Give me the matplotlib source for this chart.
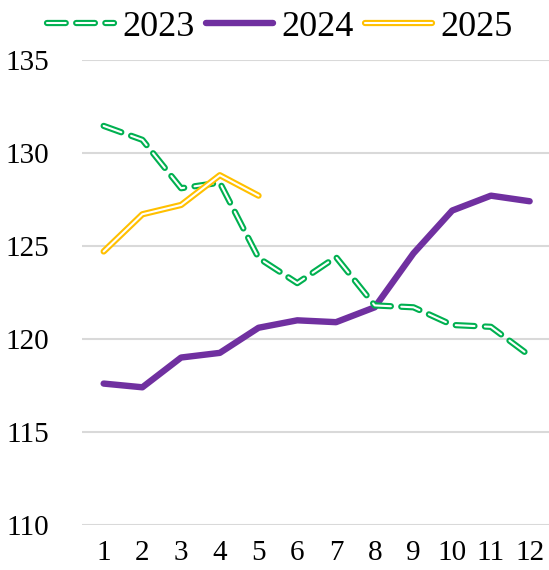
import matplotlib
matplotlib.use("Agg")
import matplotlib.pyplot as plt
import matplotlib.patheffects as pe

months = [1, 2, 3, 4, 5, 6, 7, 8, 9, 10, 11, 12]
y2023 = [131.45, 130.7, 128.1, 128.4, 124.35, 123.0, 124.4, 121.8, 121.7, 120.75, 120.65, 119.1]
y2024 = [117.6, 117.4, 119.0, 119.25, 120.6, 121.0, 120.9, 121.7, 124.6, 126.9, 127.7, 127.4]
months_2025 = [1, 2, 3, 4, 5]
y2025 = [124.7, 126.7, 127.2, 128.8, 127.7]
yticks = [110, 115, 120, 125, 130, 135]

GREEN = "#00B050"
PURPLE = "#7030A0"
YELLOW = "#FFC000"

plt.rcParams["font.family"] = ["Liberation Serif", "DejaVu Serif"]

fig = plt.figure(figsize=(5.49, 5.70), dpi=100)
ax = fig.add_axes([0.15, 0.079, 0.85, 0.816])

# 2023: green outlined dashes (white core, green stroke)
ax.plot(months, y2023, color="white", lw=1.5, ls=(0, (9, 5)),
        dash_capstyle="round", solid_capstyle="round",
        path_effects=[pe.Stroke(linewidth=4.5, foreground=GREEN), pe.Normal()],
        label="2023", zorder=3)
ax.plot(months, y2024, color=PURPLE, lw=4.6, solid_capstyle="round",
        label="2024", zorder=2)
ax.plot(months_2025, y2025, color="white", lw=1.5, solid_capstyle="round",
        path_effects=[pe.Stroke(linewidth=4.5, foreground=YELLOW), pe.Normal()],
        label="2025", zorder=4)

ax.set_xlim(0.45, 12.5)
ax.set_ylim(110, 135)
ax.set_yticks(yticks)
ax.set_xticks(months)
ax.yaxis.grid(True, color="#D9D9D9", lw=1.5)
ax.set_axisbelow(True)
for s in ax.spines.values():
    s.set_visible(False)
ax.tick_params(axis="both", length=0, labelsize=21)
ax.tick_params(axis="y", pad=24)
ax.tick_params(axis="x", pad=11)

fig.legend(loc="center", bbox_to_anchor=(0.51, 0.952), ncol=3,
           frameon=False, fontsize=26, handlelength=1.85,
           handletextpad=0.25, columnspacing=0.3, borderaxespad=0)

fig.savefig("out.png", dpi=100)
